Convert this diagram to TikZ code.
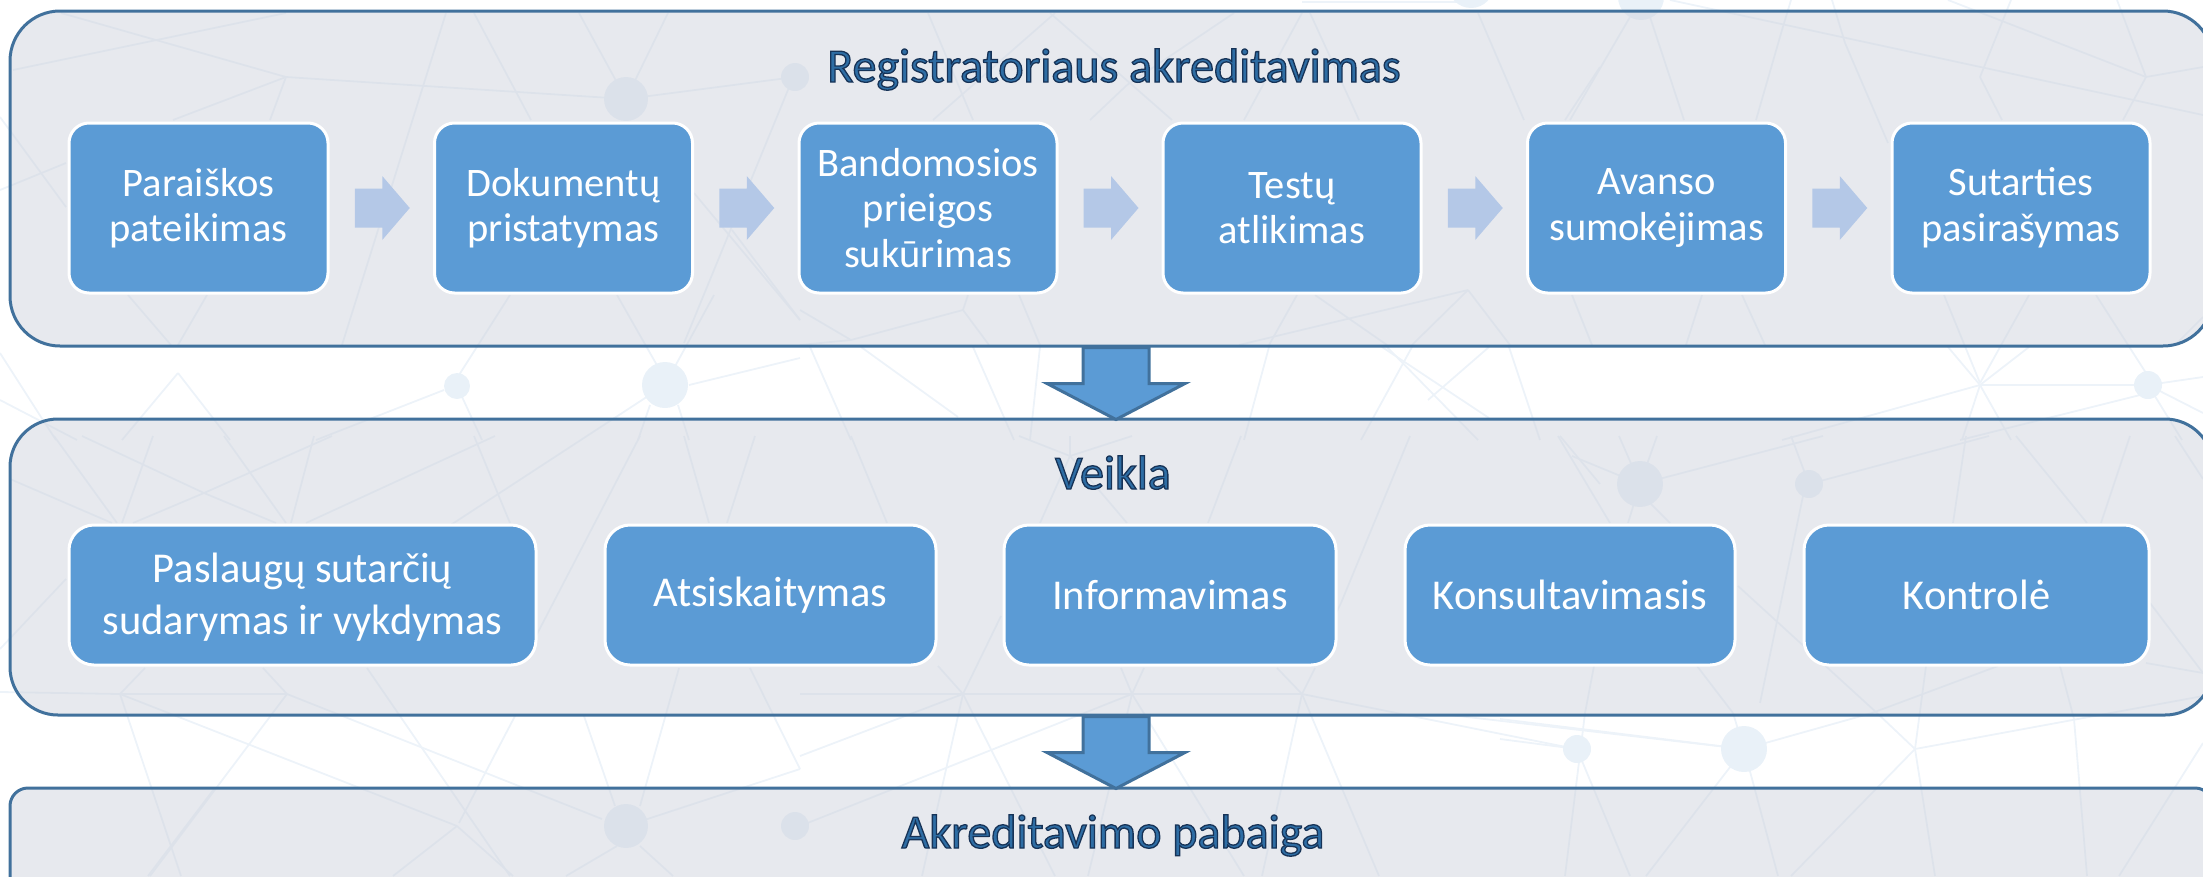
\documentclass[tikz,border=0pt]{standalone}
\usepackage{fontspec}
\setmainfont{Carlito}
\usetikzlibrary{calc}
\definecolor{netcol}{HTML}{EDF3F9}
\definecolor{dotcol}{HTML}{E9F1F8}
\definecolor{panelfill}{HTML}{CFD3DD}
\definecolor{panelline}{HTML}{41719C}
\definecolor{boxfill}{HTML}{5B9BD5}
\definecolor{flowfill}{HTML}{B4C8E7}
\definecolor{titlefill}{HTML}{2E6DA4}
\newcommand{\outlined}[1]{\special{pdf:code 2 Tr 1.3 w 0.09 0.2 0.34 RG}#1\special{pdf:code 0 Tr}}
\tikzset{
  netline/.style={draw=netcol,line width=1.8pt},
  netdot/.style={fill=dotcol},
  panel/.style={draw=panelline,line width=3pt,fill=panelfill,fill opacity=.5,draw opacity=1,text opacity=1,inner sep=0pt,rectangle},
  stepbox/.style={rectangle,rounded corners=#1,draw=white,line width=3pt,fill=boxfill,text=white,align=center,inner sep=0pt},
  stepbox/.default=20pt,
  rowa/.style={stepbox=20pt,font=\fontsize{40.5}{45.5}\selectfont},
  rowb/.style={stepbox=25pt,font=\fontsize{42.5}{52}\selectfont},
  titletext/.style={text=titlefill,inner sep=0pt,font=\fontsize{48}{52}\selectfont},
  flow/.style={fill=flowfill},
  downflow/.style={fill=boxfill,draw=panelline,line width=3pt,line join=miter}
}
\newcommand{\flowarrow}[1]{\fill[flow] ($(#1)+(-27.5,-19.5)$) -- ($(#1)+(0,-19.5)$) -- ($(#1)+(0,-32)$) -- ($(#1)+(27.5,0)$) -- ($(#1)+(0,32)$) -- ($(#1)+(0,19.5)$) -- ($(#1)+(-27.5,19.5)$) -- cycle;}
\newcommand{\blockdown}[1]{\draw[downflow] ($(#1)+(-33,0)$) -- ($(#1)+(33,0)$) -- ($(#1)+(33,36)$) -- ($(#1)+(69,36)$) -- ($(#1)+(0,72)$) -- ($(#1)+(-69,36)$) -- ($(#1)+(-33,36)$) -- cycle;}
\begin{document}
\begin{tikzpicture}[x=1pt,y=-1pt]
\useasboundingbox (0,0) rectangle (2203,876);
\clip (0,0) rectangle (2203,876);
% background network
\foreach \xa/\ya/\xb/\yb in {
61/13/286/77, 13/70/286/13, 286/77/626/99, 286/77/173/120, 286/77/270/120,
446/13/342/345, 474/13/531/120, 579/13/626/99, 668/13/626/99, 626/99/795/77,
790/85/684/343, 0/117/66/207, 0/190/66/163, 128/295/171/345, 207/295/178/345,
510/295/459/375, 617/295/658/367, 714/295/673/370, 694/193/800/320, 732/230/800/320,
689/385/800/358, 665/385/443/530, 178/373/122/440, 178/373/230/440,
444/390/316/440, 457/386/482/440, 678/405/689/440, 650/405/638/440,
0/353/41/417, 41/417/56/440, 0/400/77/440,
928/13/973/120, 1050/13/1172/120, 1055/13/933/120, 1234/13/1127/85, 1127/85/1090/120,
1310/13/1359/120, 1302/13/1244/120, 1302/2/1480/2, 1478/13/1524/120, 1600/67/1565/120,
963/310/851/340, 963/310/989/345, 800/310/851/340, 851/340/800/345, 1019/295/1040/345,
968/295/963/310, 1297/295/1269/345, 1468/290/1412/345, 1315/295/1387/345, 1468/290/1239/345,
1468/290/1510/345,
810/347/851/440, 861/347/958/417, 973/347/1014/440, 1040/347/1030/440, 1269/347/1244/440,
1387/347/1478/440, 1412/347/1361/440, 1489/347/1428/400, 1509/347/1540/440, 1382/347/1489/418,
1670/0/2203/115, 1948/0/2146/77, 2146/77/2203/67, 2146/77/2123/120, 2011/0/1980/77,
1980/77/2002/120, 1782/30/1756/120, 1791/0/1782/30, 1832/0/1845/43, 1845/43/1888/143,
2117/0/2146/77, 1630/17/1570/120, 1650/17/1684/120,
1572/295/1592/345, 1702/295/1686/345, 1742/295/1765/345, 1944/295/1980/383, 2029/295/1980/383,
2096/295/2146/373, 2203/317/2175/345, 1980/385/2148/385, 1980/385/1962/440, 1980/385/2011/440,
1980/385/1782/440, 2148/393/1960/440, 2148/385/2203/377, 2148/385/2203/413, 2148/385/2182/440,
1948/347/1980/385, 2029/347/1980/385,
1558/436/1610/523, 1572/456/1640/484, 1619/436/1640/484, 1657/436/1640/484, 1640/484/1823/436,
1650/503/1670/523, 1628/523/1640/484, 1791/436/1809/484, 1809/484/1989/436, 1803/496/1760/703,
1966/436/1953/523, 2016/436/2087/523, 2130/436/2101/523, 2175/436/2203/479,
1738/586/1877/713, 1877/713/1915/749, 2150/603/2203/673, 2146/663/2203/673,
1594/666/1585/713, 1697/666/1733/713, 1733/713/1744/749, 1926/666/1915/749,
2060/666/2074/719, 2074/719/2087/876, 1998/666/1872/713, 1872/713/1744/749, 1915/749/2203/696,
1500/739/1577/749, 1500/719/1744/749, 1915/749/1791/876, 1915/749/1935/876, 2203/743/2119/876,
1577/749/1630/876, 1744/749/1646/876, 1744/749/1778/876, 1585/713/1565/876,
54/436/117/523, 153/436/122/523, 224/436/286/523, 314/436/291/523, 82/436/204/493,
204/493/276/523, 332/436/204/493, 204/493/133/523, 10/479/112/523, 495/436/306/523,
474/436/510/523, 640/436/536/636, 684/436/709/523, 755/436/727/523, 66/579/0/649,
145/668/120/694, 0/692/120/694, 120/694/287/694, 263/668/287/694, 287/694/602/819,
120/694/457/826, 287/694/150/876, 120/694/181/876, 367/668/510/876, 515/716/459/823,
584/716/615/806, 679/668/640/806, 750/668/800/769, 626/826/800/769, 617/846/566/876,
640/846/673/876, 457/826/513/876, 457/826/393/876, 214/789/148/876,
800/694/1302/694, 1302/694/1576/749, 938/666/963/694, 1001/616/963/694, 963/694/800/756,
963/694/1055/876, 963/694/922/876, 1121/668/1132/694, 1144/668/1132/694, 1132/694/800/826,
1132/694/1244/876, 1132/694/1088/876, 1277/668/1302/694, 1315/668/1302/694, 1302/694/1262/876,
1302/694/1379/876, 851/436/887/523, 1019/436/1070/456, 1070/456/1127/523, 1070/456/1040/523,
1132/436/1070/456, 1070/436/1070/456, 1241/436/1208/523, 1410/436/1341/603, 1341/603/1310/665,
1560/436/1600/484, 1450/715/1744/749
}{\draw[netline] (\xa,\ya) -- (\xb,\yb);}
\foreach \cx/\cy/\r in {626/99/22, 795/77/14, 457/386/13, 665/385/23, 1471/-15/23, 1641/-3/23,
2148/385/14, 626/826/22, 795/826/14, 1577/749/14, 1640/484/23, 1809/484/14, 1744/749/23}
{\fill[netdot] (\cx,\cy) circle (\r);}
% panels
\node[panel,rounded corners=50pt,minimum width=2203pt,minimum height=335pt] (p1) at (1111.5,178.5) {};
\node[panel,rounded corners=48pt,minimum width=2203pt,minimum height=296pt] (p2) at (1111.5,567) {};
\node[panel,rounded corners=18pt,minimum width=2203pt,minimum height=200pt] (p3) at (1111.5,888) {};
% titles
\node[titletext,anchor=base] (t1) at (1114,82) {\outlined{Registratoriaus akreditavimas}};
\node[titletext,anchor=base] (t2) at (1113,489) {\outlined{Veikla}};
\node[titletext,anchor=base] (t3) at (1113,848) {\outlined{Akreditavimo pabaiga}};
% row 1
\node[rowa,minimum width=259pt,minimum height=170pt] (b1) at (198.5,208) {Paraiškos\\pateikimas};
\node[rowa,minimum width=258pt,minimum height=170pt] (b2) at (563.5,208) {Dokumentų\\pristatymas};
\node[rowa,minimum width=258pt,minimum height=170pt] (b3) at (928,208) {Bandomosios\\prieigos\\sukūrimas};
\node[rowa,minimum width=258pt,minimum height=170pt] (b4) at (1292,208) {Testų\\atlikimas};
\node[rowa,minimum width=258pt,minimum height=170pt] (b5) at (1656.5,208) {Avanso\\sumokėjimas};
\node[rowa,minimum width=258pt,minimum height=170pt] (b6) at (2021,208) {Sutarties\\pasirašymas};
% row 2
\node[rowb,minimum width=467pt,minimum height=140pt] (c1) at (302.5,595) {\rule{0pt}{33pt}Paslaugų sutarčių\\sudarymas ir vykdymas};
\node[rowb,minimum width=331pt,minimum height=140pt] (c2) at (770.5,595) {Atsiskaitymas};
\node[rowb,minimum width=332pt,minimum height=140pt] (c3) at (1170,595) {Informavimas};
\node[rowb,minimum width=330pt,minimum height=140pt] (c4) at (1570,595) {Konsultavimasis};
\node[rowb,minimum width=345pt,minimum height=140pt] (c5) at (1976.5,595) {Kontrolė};
% step arrows
\foreach \l/\r [count=\i] in {b1/b2,b2/b3,b3/b4,b4/b5,b5/b6}{
  \coordinate (f\i) at ($(\l.east)!0.5!(\r.west)+(1,0)$);
  \flowarrow{f\i}
}
% block arrows between panels
\coordinate (d1) at ($(p1.south)+(4.5,0)$);
\coordinate (d2) at ($(p2.south)+(4.5,0)$);
\blockdown{d1}
\blockdown{d2}
\end{tikzpicture}
\end{document}
